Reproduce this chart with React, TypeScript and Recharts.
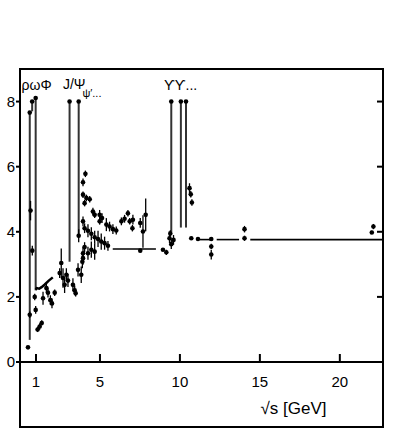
import React from 'react';
import { ComposedChart, XAxis, YAxis, Scatter, ErrorBar, ReferenceLine, ReferenceDot, Line } from 'recharts';

// measured points: sqrt(s) [GeV], R, error
const sqrtS = [
  0.50, 0.61, 0.66, 0.77, 0.92, 0.98, 1.10, 1.23, 1.36, 1.44, 1.65, 1.75, 1.90, 2.00, 2.17,
  2.48, 2.58, 2.69, 2.79, 2.90, 3.00, 3.31, 3.42, 3.48, 3.63, 3.83, 3.90, 3.94,
  3.94, 4.09, 3.94, 4.15, 4.36, 4.04, 4.56, 4.67, 4.98, 5.13, 4.98, 5.40, 5.60, 5.81, 6.02,
  6.34, 6.54, 6.75, 6.86, 7.06, 7.03, 7.52, 7.69, 7.86,
  3.67, 3.94, 4.04, 4.25, 4.46, 4.67, 4.88, 5.08, 5.29, 5.50, 4.04, 4.25, 4.46, 4.67, 3.94,
  7.52, 8.94, 9.15, 9.35, 9.46, 9.60, 9.40, 10.60, 10.68, 10.75, 10.71, 11.13,
  11.96, 11.96, 11.96, 14.04, 14.04, 22.10, 22.00,
];
const R = [
  0.45, 1.45, 4.65, 3.42, 2.00, 1.60, 1.00, 1.09, 1.20, 1.96, 2.27, 2.13, 1.90, 1.80, 2.13,
  2.73, 3.04, 2.58, 2.37, 2.68, 2.50, 2.37, 2.20, 2.11, 2.83, 2.68, 3.08, 3.34,
  5.52, 5.78, 5.14, 5.04, 5.00, 4.88, 4.62, 4.52, 4.52, 4.42, 4.32, 4.22, 4.16, 4.08, 4.04,
  4.32, 4.40, 4.57, 4.32, 4.37, 4.11, 4.27, 4.01, 4.52,
  3.88, 4.32, 4.11, 4.03, 3.94, 3.83, 3.78, 3.70, 3.65, 3.57, 3.53, 3.34, 3.45, 3.39, 3.19,
  3.42, 3.45, 3.37, 3.80, 3.62, 3.75, 3.95, 5.34, 5.15, 4.90, 3.80, 3.78,
  3.78, 3.55, 3.30, 4.08, 3.80, 4.16, 3.98,
];
const dR = [
  0.05, 0.10, 0.30, 0.15, 0.10, 0.12, 0.08, 0.10, 0.08, 0.20, 0.15, 0.15, 0.15, 0.15, 0.10,
  0.15, 0.45, 0.30, 0.25, 0.20, 0.20, 0.20, 0.15, 0.10, 0.20, 0.25, 0.20, 0.20,
  0.12, 0.10, 0.10, 0.10, 0.10, 0.10, 0.12, 0.10, 0.15, 0.15, 0.10, 0.20, 0.15, 0.15, 0.12,
  0.12, 0.12, 0.10, 0.10, 0.15, 0.10, 0.15, 0.50, 0.50,
  0.20, 0.15, 0.15, 0.20, 0.20, 0.20, 0.25, 0.25, 0.20, 0.15, 0.15, 0.20, 0.25, 0.25, 0.20,
  0.05, 0.05, 0.08, 0.15, 0.15, 0.15, 0.10, 0.15, 0.10, 0.10, 0.05, 0.05,
  0.05, 0.08, 0.15, 0.10, 0.08, 0.08, 0.05,
];

// thick measured curve below 2 GeV
const curveX = [0.98, 1.05, 1.20, 1.35, 1.55, 1.80, 2.05];
const curveR = [2.22, 2.27, 2.25, 2.30, 2.38, 2.50, 2.60];

// narrow resonances
const resX = [0.61, 0.76, 0.98, 3.10, 3.67, 9.46, 10.06, 10.38];
const resTop = [7.66, 8.0, 8.11, 8.0, 8.0, 8.0, 8.0, 8.0];
const resBottom = [0.68, 7.7, 2.2, 3.08, 3.85, 4.0, 4.13, 4.13];

// quark-model level segments
const predFrom = [5.8, 11.25, 12.3, 14.4];
const predTo = [8.5, 11.9, 13.7, 22.7];
const predR = [3.47, 3.76, 3.76, 3.76];

const xTicks = [1, 5, 10, 15, 20];
const yTicks = [0, 2, 4, 6, 8];

const noteText = ['ρωΦ', 'J/Ψ', "ψ′...", 'ϒϒ...'];
const noteX = [1.04, 3.39, 4.5, 10.04];
const noteY = [8.52, 8.55, 8.27, 8.52];
const noteSize = [14, 14, 11, 14];

const points = sqrtS.map((x, i) => ({ x, y: R[i], e: dR[i] }));
const curve = curveX.map((x, i) => ({ x, y: curveR[i] }));
const tops = resX.map((x, i) => ({ x, y: resTop[i] }));

const FONT = '"Liberation Sans", Arial, sans-serif';

const Dot = (p: any) => <circle cx={p.cx} cy={p.cy} r={2.3} fill="#000" />;

export default function App() {
  return (
    <div style={{ position: 'absolute', left: 0, top: 0, width: 397, height: 436 }}>
      <ComposedChart
        width={397}
        height={436}
        margin={{ top: 69, right: 14, left: 0, bottom: 0 }}
        style={{ fontFamily: FONT }}
      >
        <XAxis
          xAxisId="x"
          dataKey="x"
          type="number"
          domain={[0, 22.7]}
          ticks={xTicks}
          allowDataOverflow
          height={74}
          tickLine={false}
          tickSize={0}
          tickMargin={14}
          tick={{ fontSize: 15, fill: '#000' }}
          axisLine={{ stroke: '#000', strokeWidth: 2 }}
          label={{ value: '√s [GeV]', position: 'insideBottom', offset: 22, dx: 92, fontSize: 17, fill: '#000' }}
        />
        <XAxis
          xAxisId="t"
          dataKey="x"
          type="number"
          domain={[0, 22.7]}
          ticks={xTicks}
          allowDataOverflow
          mirror
          tickSize={8}
          tickFormatter={() => ''}
          axisLine={false}
          tickLine={{ stroke: '#000', strokeWidth: 2 }}
        />
        <YAxis
          yAxisId="y"
          dataKey="y"
          type="number"
          domain={[0, 9]}
          ticks={yTicks}
          allowDataOverflow
          width={20}
          tickSize={4}
          tickMargin={1}
          axisLine={false}
          tickLine={{ stroke: '#000', strokeWidth: 2 }}
          tick={{ fontSize: 15, fill: '#000' }}
        />
        <YAxis
          yAxisId="r"
          orientation="right"
          dataKey="y"
          type="number"
          domain={[0, 9]}
          ticks={yTicks}
          allowDataOverflow
          mirror
          tickSize={6}
          tickFormatter={() => ''}
          axisLine={false}
          tickLine={{ stroke: '#000', strokeWidth: 2 }}
        />
        {resX.map((x, i) => (
          <ReferenceLine
            key={'res' + i}
            xAxisId="x"
            yAxisId="y"
            segment={[{ x, y: resBottom[i] }, { x, y: resTop[i] }]}
            stroke="#333"
            strokeWidth={2}
          />
        ))}
        {predFrom.map((x, i) => (
          <ReferenceLine
            key={'pred' + i}
            xAxisId="x"
            yAxisId="y"
            segment={[{ x, y: predR[i] }, { x: predTo[i], y: predR[i] }]}
            stroke="#000"
            strokeWidth={1.6}
          />
        ))}
        <Line
          xAxisId="x"
          yAxisId="y"
          data={curve}
          dataKey="y"
          type="linear"
          stroke="#000"
          strokeWidth={2.5}
          dot={false}
          isAnimationActive={false}
        />
        <Scatter xAxisId="x" yAxisId="y" data={tops} dataKey="y" shape={Dot} isAnimationActive={false} />
        <Scatter xAxisId="x" yAxisId="y" data={points} dataKey="y" shape={Dot} isAnimationActive={false}>
          <ErrorBar dataKey="e" direction="y" width={0} stroke="#000" strokeWidth={1.3} />
        </Scatter>
        {noteText.map((t, i) => (
          <ReferenceDot
            key={'note' + i}
            xAxisId="x"
            yAxisId="y"
            x={noteX[i]}
            y={noteY[i]}
            r={0}
            fill="none"
            stroke="none"
            label={{ value: t, position: 'center', fontSize: noteSize[i], fill: '#000' }}
          />
        ))}
      </ComposedChart>
      <div
        style={{
          position: 'absolute',
          left: 19,
          top: 68,
          width: 365,
          height: 360,
          border: '2px solid #000',
          boxSizing: 'border-box',
          pointerEvents: 'none',
        }}
      />
    </div>
  );
}
